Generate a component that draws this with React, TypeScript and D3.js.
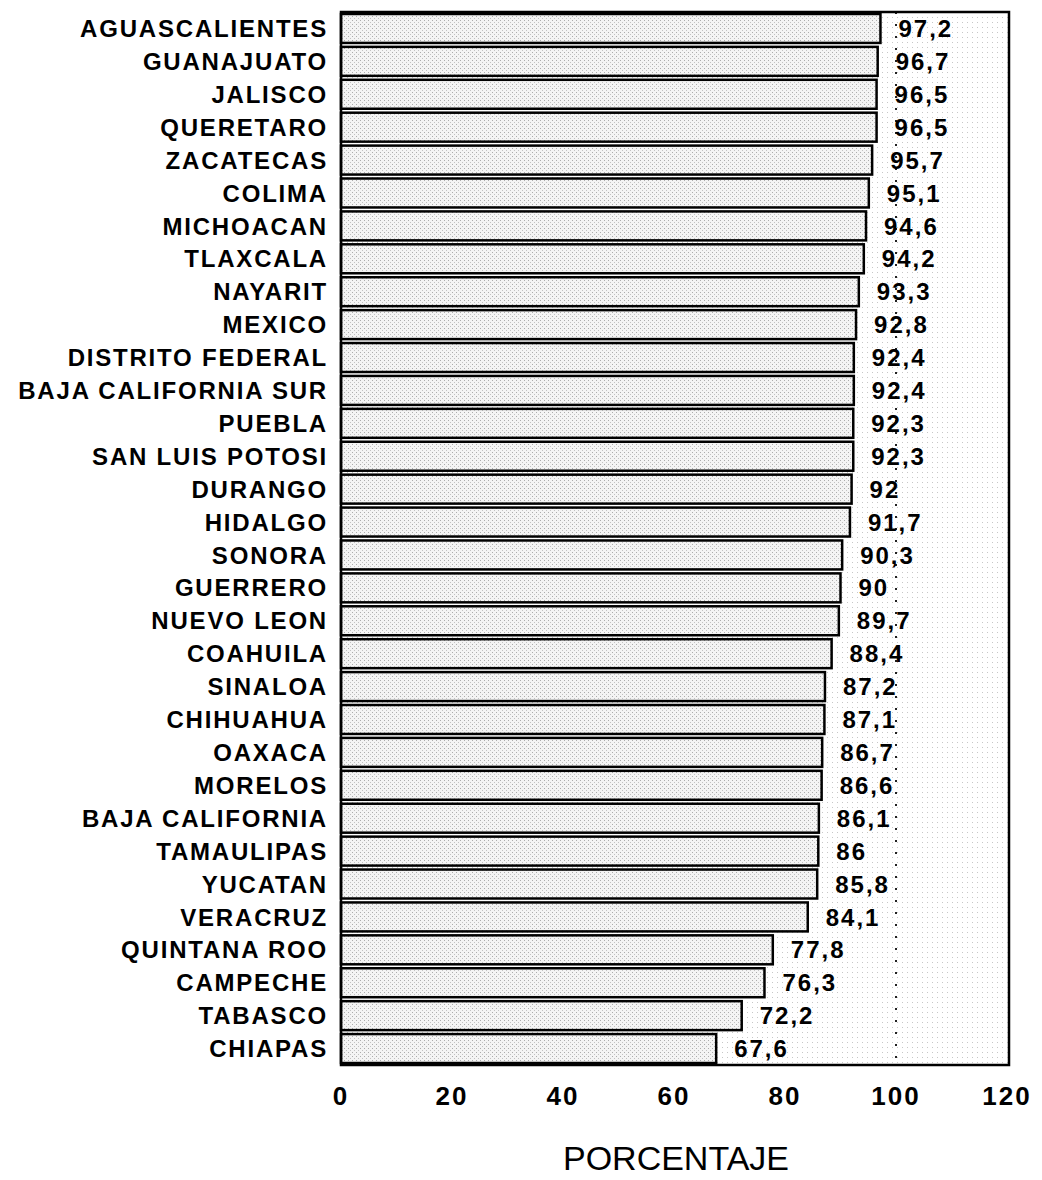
import { useEffect } from 'react';
import * as d3 from 'd3';

const states = [
  'AGUASCALIENTES', 'GUANAJUATO', 'JALISCO', 'QUERETARO', 'ZACATECAS', 'COLIMA',
  'MICHOACAN', 'TLAXCALA', 'NAYARIT', 'MEXICO', 'DISTRITO FEDERAL', 'BAJA CALIFORNIA SUR',
  'PUEBLA', 'SAN LUIS POTOSI', 'DURANGO', 'HIDALGO', 'SONORA', 'GUERRERO', 'NUEVO LEON',
  'COAHUILA', 'SINALOA', 'CHIHUAHUA', 'OAXACA', 'MORELOS', 'BAJA CALIFORNIA',
  'TAMAULIPAS', 'YUCATAN', 'VERACRUZ', 'QUINTANA ROO', 'CAMPECHE', 'TABASCO', 'CHIAPAS',
];

const percents = [
  97.2, 96.7, 96.5, 96.5, 95.7, 95.1, 94.6, 94.2, 93.3, 92.8, 92.4, 92.4, 92.3, 92.3,
  92, 91.7, 90.3, 90, 89.7, 88.4, 87.2, 87.1, 86.7, 86.6, 86.1, 86, 85.8, 84.1,
  77.8, 76.3, 72.2, 67.6,
];

const xTicks = [0, 20, 40, 60, 80, 100, 120];
const axisTitle = 'PORCENTAJE';

const W = 1042;
const H = 1180;
const font = '"Liberation Sans", Arial, Helvetica, sans-serif';

export default function App() {
  useEffect(() => {
    document.body.style.margin = '0';
  }, []);

  const x = d3.scaleLinear().domain([0, 120]).range([341, 1007]);
  const y = d3.scaleBand<string>()
    .domain(states)
    .range([12, 1065])
    .paddingInner(0.12)
    .paddingOuter(0.06);

  const fmt = (v: number) => String(v).replace('.', ',');
  const top = 12;
  const bottom = 1065;

  return (
    <svg width={W} height={H} style={{ display: 'block', background: '#fff' }}>
      <defs>
        <pattern id="bgDots" width="5" height="5" patternUnits="userSpaceOnUse">
          <rect x="2" y="2" width="1" height="1" fill="#9a9a9a" />
        </pattern>
        <pattern id="barStipple" width="4" height="4" patternUnits="userSpaceOnUse">
          <rect width="4" height="4" fill="#f4f4f4" />
          <rect x="0" y="0" width="1" height="1" fill="#acacac" />
          <rect x="2" y="2" width="1" height="1" fill="#c2c2c2" />
        </pattern>
      </defs>

      {/* plot background */}
      <rect x={x(0)} y={top} width={x(120) - x(0) + 2} height={bottom - top} fill="url(#bgDots)" opacity={0.55} />

      {/* reference line at 100 */}
      <line x1={x(100)} x2={x(100)} y1={top} y2={bottom} stroke="#222" strokeWidth={2} strokeDasharray="2 10" />

      {states.map((s, i) => (
        <g key={s}>
          <rect
            x={x(0)}
            y={y(s)!}
            width={x(percents[i]) - x(0)}
            height={y.bandwidth()}
            fill="url(#barStipple)"
            stroke="#000"
            strokeWidth={2.5}
          />
          <text
            x={328}
            y={y(s)! + y.bandwidth() / 2}
            dy="0.36em"
            textAnchor="end"
            fontFamily={font}
            fontWeight="bold"
            fontSize={24}
            letterSpacing={1.8}
            fill="#000"
          >
            {s}
          </text>
          <text
            x={x(percents[i]) + 18}
            y={y(s)! + y.bandwidth() / 2}
            dy="0.36em"
            fontFamily={font}
            fontWeight="bold"
            fontSize={24}
            letterSpacing={2}
            fill="#000"
          >
            {fmt(percents[i])}
          </text>
        </g>
      ))}

      {/* frame */}
      <rect x={x(0)} y={top} width={x(120) - x(0) + 2} height={bottom - top} fill="none" stroke="#000" strokeWidth={2.5} />

      {xTicks.map((t) => (
        <text
          key={t}
          x={x(t)}
          y={1105}
          textAnchor="middle"
          fontFamily={font}
          fontWeight="bold"
          fontSize={26}
          letterSpacing={2}
          fill="#000"
        >
          {t}
        </text>
      ))}

      <text
        x={676}
        y={1170}
        textAnchor="middle"
        fontFamily={font}
        fontSize={34}
        fill="#000"
      >
        {axisTitle}
      </text>
    </svg>
  );
}
